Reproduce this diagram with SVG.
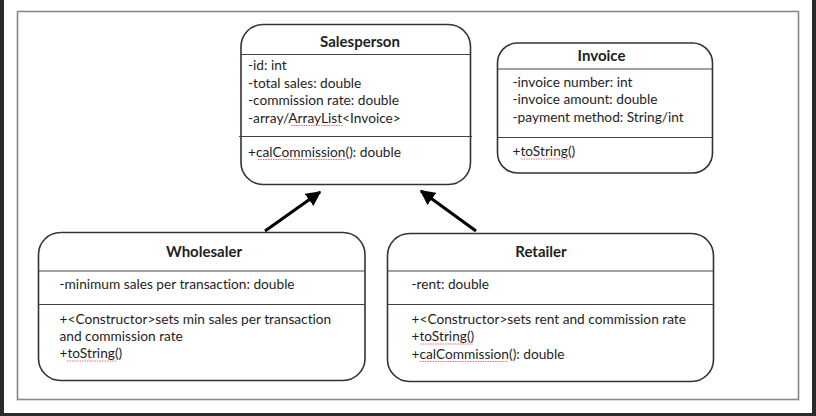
<svg xmlns="http://www.w3.org/2000/svg" width="816" height="416" viewBox="0 0 816 416">
<style>
.box{fill:#fff;stroke:#333;stroke-width:1.6}
.sep{stroke:#444;stroke-width:1.2}
.t{font-family:Lato,"Liberation Sans",sans-serif;font-size:13.7px;fill:#1e1e1e;font-variant-ligatures:none}
.h{font-family:Lato,"Liberation Sans",sans-serif;font-size:15px;font-weight:bold;fill:#1e1e1e;text-anchor:middle;font-variant-ligatures:none}
.sq{fill:none;stroke:#e05050;stroke-width:0.8;stroke-dasharray:1.5 1}
.c{stroke:#000;stroke-width:3;fill:none}
</style>
<defs>
<marker id="ah" viewBox="0 0 10 10" refX="9" refY="5" markerWidth="5" markerHeight="5" orient="auto" markerUnits="strokeWidth">
<path d="M0,0 L10,5 L0,10 z" fill="#000"/>
</marker>
</defs>
<rect x="0" y="0" width="816" height="416" fill="#2b2b2b"/>
<rect x="4" y="0" width="808" height="413" fill="#fff"/>
<rect x="17.5" y="11.5" width="781" height="388" fill="#fff" stroke="#888" stroke-width="1.6"/>

<g id="salesperson">
<rect class="box" x="241" y="24.5" width="229.5" height="160" rx="22"/>
<text class="h" x="360" y="47">Salesperson</text>
<line class="sep" x1="241" y1="54.5" x2="470.5" y2="54.5"/>
<text class="t" x="248" y="70">-id: int</text>
<text class="t" x="248" y="87.5">-total sales: double</text>
<text class="t" x="248" y="105">-commission rate: double</text>
<text class="t" x="248" y="122.5">-array/ArrayList&lt;Invoice&gt;</text>
<line class="sep" x1="239" y1="136.5" x2="472" y2="136.5"/>
<text class="t" x="248" y="156.5">+calCommission(): double</text>
<path class="sq" d="M291,125.5 H343"/>
<path class="sq" d="M258,159.5 H346"/>
</g>

<g id="invoice">
<rect class="box" x="497.5" y="43" width="215" height="130" rx="20"/>
<text class="h" x="601.5" y="60.5">Invoice</text>
<line class="sep" x1="497.5" y1="69" x2="712.5" y2="69"/>
<text class="t" x="512.5" y="86.5">-invoice number: int</text>
<text class="t" x="512.5" y="104">-invoice amount: double</text>
<text class="t" x="512.5" y="121.5">-payment method: String/int</text>
<line class="sep" x1="497.5" y1="137.5" x2="712.5" y2="137.5"/>
<text class="t" x="512.5" y="156">+toString()</text>
<path class="sq" d="M521,159 H569"/>
</g>

<g id="wholesaler">
<rect class="box" x="38.5" y="232.5" width="326.5" height="148" rx="22"/>
<text class="h" x="204" y="256.5">Wholesaler</text>
<line class="sep" x1="38.5" y1="271" x2="365" y2="271"/>
<text class="t" x="59.5" y="288.5">-minimum sales per transaction: double</text>
<line class="sep" x1="38.5" y1="304.5" x2="365" y2="304.5"/>
<text class="t" x="59.5" y="323.5">+&lt;Constructor&gt;sets min sales per transaction</text>
<text class="t" x="59.5" y="340.5">and commission rate</text>
<text class="t" x="59.5" y="358">+toString()</text>
<path class="sq" d="M67,361 H117"/>
</g>

<g id="retailer">
<rect class="box" x="387.5" y="233.5" width="326" height="148" rx="22"/>
<text class="h" x="541" y="257">Retailer</text>
<line class="sep" x1="387.5" y1="271" x2="713.5" y2="271"/>
<text class="t" x="411.5" y="288.5">-rent: double</text>
<line class="sep" x1="387.5" y1="304.5" x2="713.5" y2="304.5"/>
<text class="t" x="411.5" y="323.5">+&lt;Constructor&gt;sets rent and commission rate</text>
<text class="t" x="411.5" y="341">+toString()</text>
<text class="t" x="411.5" y="358.5">+calCommission(): double</text>
<path class="sq" d="M420,344 H473"/>
<path class="sq" d="M420,361.5 H508"/>
</g>

<g id="connectors">
<line class="c" x1="265" y1="231" x2="320" y2="192" marker-end="url(#ah)"/>
<line class="c" x1="476" y1="231" x2="421" y2="191" marker-end="url(#ah)"/>
</g>
</svg>
